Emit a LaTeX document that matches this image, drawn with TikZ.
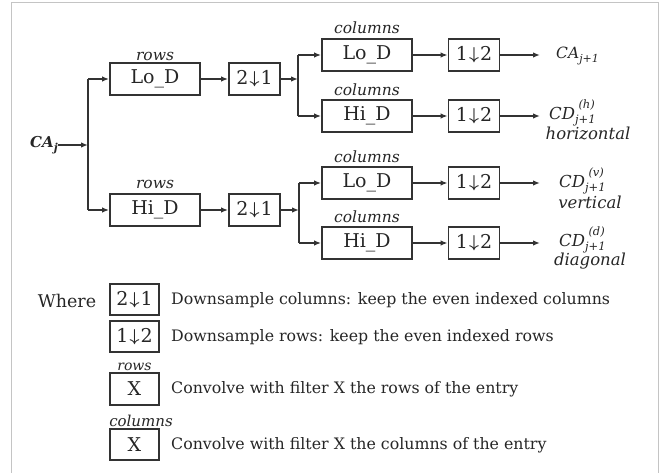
\documentclass[tikz,border=0pt]{standalone}
\usepackage{amsmath}
\usepackage{fontspec}
\setmainfont{DejaVu Serif}
\usetikzlibrary{arrows.meta}
\definecolor{linec}{HTML}{333333}
\definecolor{textc}{HTML}{262626}
\definecolor{framec}{HTML}{C4C4C4}
\newcommand{\dn}{\hspace{0.06em}\raisebox{0.1ex}{\fontsize{16}{16}\selectfont$\boldsymbol{\downarrow}$}\hspace{0.06em}}
\newcommand{\subsup}[2]{\makebox[0pt][l]{\raisebox{1.25ex}{\fontsize{11.5}{11.5}\selectfont\itshape\hspace{0.3em}#2}}\raisebox{-0.55ex}{\fontsize{11.5}{11.5}\selectfont\itshape #1}}
\tikzset{
  fbox/.style={draw=linec, line width=1.8pt, inner sep=0pt, minimum height=32pt, text=textc, font=\fontsize{19}{19}\selectfont},
  wbox/.style={fbox, minimum width=90pt},
  sbox/.style={fbox, minimum width=51pt},
  lgbox/.style={fbox, minimum width=49pt, minimum height=31pt},
  lbl/.style={text=textc, font=\fontsize{15.5}{15.5}\selectfont\itshape, inner sep=0pt},
  outl/.style={text=textc, font=\fontsize{16.5}{16.5}\selectfont\itshape, inner sep=0pt},
  lgt/.style={text=textc, font=\fontsize{15.8}{15.8}\selectfont, inner sep=0pt, anchor=west},
  ln/.style={draw=linec, line width=1.6pt},
  arr/.style={ln, -{Latex[length=7pt,width=5.5pt]}},
}
\begin{document}
\begin{tikzpicture}[x=1pt,y=-1pt]
\useasboundingbox (0,0) rectangle (662,473);
\draw[framec, line width=1pt] (11,473) -- (11,3) -- (658,3) -- (658,473);

% input
\node[outl, font=\fontsize{15}{15}\selectfont\itshape\bfseries] (caj) at (44,145) {CA\raisebox{-0.55ex}{\fontsize{11}{11}\selectfont j}};
\coordinate (j1) at (88,145);
\coordinate (j1t) at (88,79);
\coordinate (j1b) at (88,210);

% row stage
\node[wbox] (rlo) at (155,79) {Lo\_D};
\node[lbl] (rlol) at (155,56) {rows};
\node[sbox] (d1) at (254.5,79) {2\dn1};
\node[wbox] (rhi) at (155,210) {Hi\_D};
\node[lbl] (rhil) at (155,184) {rows};
\node[sbox] (d2) at (254.5,210) {2\dn1};

% junctions
\coordinate (j2) at (298,79);
\coordinate (j2t) at (298,55);
\coordinate (j2b) at (298,116);
\coordinate (j3) at (299,210);
\coordinate (j3t) at (299,183);
\coordinate (j3b) at (299,243);

% column stage
\node[wbox] (c1) at (367,55) {Lo\_D};
\node[lbl] (c1l) at (367,28) {columns};
\node[sbox] (u1) at (474,55) {1\dn2};
\node[wbox] (c2) at (367,116) {Hi\_D};
\node[lbl] (c2l) at (367,90) {columns};
\node[sbox] (u2) at (474,116) {1\dn2};
\node[wbox] (c3) at (367,183) {Lo\_D};
\node[lbl] (c3l) at (367,157) {columns};
\node[sbox] (u3) at (474,183) {1\dn2};
\node[wbox] (c4) at (367,243) {Hi\_D};
\node[lbl] (c4l) at (367,217) {columns};
\node[sbox] (u4) at (474,243) {1\dn2};

% outputs
\coordinate (o1) at (540,55);
\coordinate (o2) at (540,116);
\coordinate (o3) at (540,183);
\coordinate (o4) at (540,243);
\node[outl, font=\fontsize{15.5}{15.5}\selectfont\itshape, anchor=west] (t1) at (556,56) {CA\raisebox{-0.55ex}{\fontsize{11}{11}\selectfont\itshape j+1}};
\node[outl, anchor=west] (t2) at (549,113) {CD\subsup{j+1}{(h)}};
\node[outl] (t2b) at (588,133) {horizontal};
\node[outl, anchor=west] (t3) at (559,181) {CD\subsup{j+1}{(v)}};
\node[outl] (t3b) at (590,202) {vertical};
\node[outl, anchor=west] (t4) at (559,240) {CD\subsup{j+1}{(d)}};
\node[outl] (t4b) at (590,261) {diagonal};

% connectors
\draw[arr] (caj.east) -- (j1);
\draw[ln] (j1t) -- (j1b);
\draw[arr] (j1t) -- (rlo.west);
\draw[arr] (j1b) -- (rhi.west);
\draw[arr] (rlo.east) -- (d1.west);
\draw[arr] (rhi.east) -- (d2.west);
\draw[arr] (d1.east) -- (j2);
\draw[arr] (d2.east) -- (j3);
\draw[ln] (j2t) -- (j2b);
\draw[ln] (j3t) -- (j3b);
\draw[arr] (j2t) -- (c1.west);
\draw[arr] (j2b) -- (c2.west);
\draw[arr] (j3t) -- (c3.west);
\draw[arr] (j3b) -- (c4.west);
\draw[arr] (c1.east) -- (u1.west);
\draw[arr] (c2.east) -- (u2.west);
\draw[arr] (c3.east) -- (u3.west);
\draw[arr] (c4.east) -- (u4.west);
\draw[arr] (u1.east) -- (o1);
\draw[arr] (u2.east) -- (o2);
\draw[arr] (u3.east) -- (o3);
\draw[arr] (u4.east) -- (o4);

% legend
\node[text=textc, font=\fontsize{17.5}{17.5}\selectfont, inner sep=0pt] (where) at (67,301) {Where};
\node[lgbox] (lg1) at (134.5,299.5) {2\dn1};
\node[lgbox] (lg2) at (134.5,336.5) {1\dn2};
\node[lgbox, minimum height=32pt] (lg3) at (134.5,389) {X};
\node[lbl, font=\fontsize{14}{14}\selectfont\itshape] (lg3l) at (134.5,367) {rows};
\node[lgbox] (lg4) at (134.5,444.5) {X};
\node[lbl, font=\fontsize{15}{15}\selectfont\itshape] (lg4l) at (141,421) {columns};
\node[lgt] (lt1) at (171,300) {Downsample columns: keep the even indexed columns};
\node[lgt] (lt2) at (171,337) {Downsample rows: keep the even indexed rows};
\node[lgt] (lt3) at (171,389) {Convolve with filter X the rows of the entry};
\node[lgt] (lt4) at (171,445) {Convolve with filter X the columns of the entry};
\end{tikzpicture}
\end{document}
